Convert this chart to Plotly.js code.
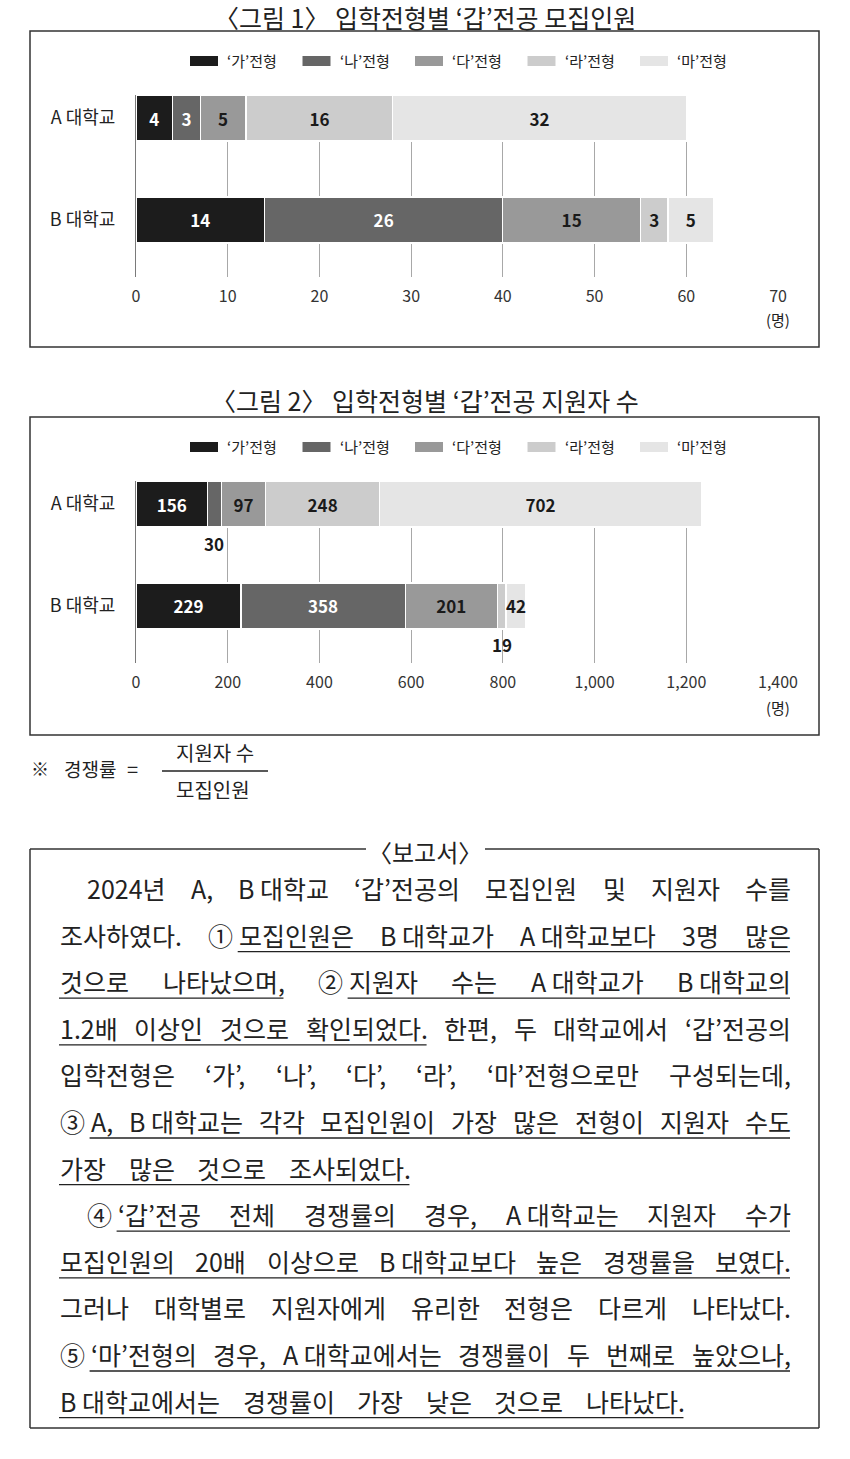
<!DOCTYPE html>
<html><head><meta charset="utf-8">
<script src="https://cdn.plot.ly/plotly-3.0.1.min.js"></script>
<style>html,body{margin:0;padding:0;background:#fff}</style>
</head><body><div id="chart" style="width:850px;height:1459px"></div>
<script>
const W = 850, H = 1459;
const FONT = '"Noto Sans CJK KR", "Noto Sans", sans-serif';

// ---- data ----
const universities = ['A 대학교', 'B 대학교'];
const types = ['‘가’전형', '‘나’전형', '‘다’전형', '‘라’전형', '‘마’전형'];
// 그림 1: 모집인원 [A, B]
const quota_ga = [4, 14];
const quota_na = [3, 26];
const quota_da = [5, 15];
const quota_ra = [16, 3];
const quota_ma = [32, 5];
// 그림 2: 지원자 수 [A, B]
const appl_ga = [156, 229];
const appl_na = [30, 358];
const appl_da = [97, 201];
const appl_ra = [248, 19];
const appl_ma = [702, 42];
const axis1Ticks = [0, 10, 20, 30, 40, 50, 60, 70];
const axis2Ticks = [0, 200, 400, 600, 800, 1000, 1200, 1400];

// '\u00a0' keeps "B 대학교" together as one word; [ ] marks underlined parts
const reportLines = [
  {indent: true,  justify: true,  text: '2024년 A, B\u00a0대학교 ‘갑’전공의 모집인원 및 지원자 수를'},
  {indent: false, justify: true,  text: '조사하였다. ①\u00a0[모집인원은 B\u00a0대학교가 A\u00a0대학교보다 3명 많은]'},
  {indent: false, justify: true,  text: '[것으로 나타났으며,] ②\u00a0[지원자 수는 A\u00a0대학교가 B\u00a0대학교의]'},
  {indent: false, justify: true,  text: '[1.2배 이상인 것으로 확인되었다.] 한편, 두 대학교에서 ‘갑’전공의'},
  {indent: false, justify: true,  text: '입학전형은 ‘가’, ‘나’, ‘다’, ‘라’, ‘마’전형으로만 구성되는데,'},
  {indent: false, justify: true,  text: '③\u00a0[A, B\u00a0대학교는 각각 모집인원이 가장 많은 전형이 지원자 수도]'},
  {indent: false, justify: false, text: '[가장 많은 것으로 조사되었다.]'},
  {indent: true,  justify: true,  text: '④\u00a0[‘갑’전공 전체 경쟁률의 경우, A\u00a0대학교는 지원자 수가]'},
  {indent: false, justify: true,  text: '[모집인원의 20배 이상으로 B\u00a0대학교보다 높은 경쟁률을 보였다.]'},
  {indent: false, justify: true,  text: '그러나 대학별로 지원자에게 유리한 전형은 다르게 나타났다.'},
  {indent: false, justify: true,  text: '⑤\u00a0[‘마’전형의 경우, A\u00a0대학교에서는 경쟁률이 두 번째로 높았으나,]'},
  {indent: false, justify: false, text: '[B\u00a0대학교에서는 경쟁률이 가장 낮은 것으로 나타났다.]'}
];

// ---- style ----
const colors = ['#1c1c1c', '#666666', '#999999', '#cccccc', '#e5e5e5'];
const labelColors = ['#ffffff', '#ffffff', '#1a1a1a', '#1a1a1a', '#1a1a1a'];
const px = x => x / W;
const py = y => 1 - y / H;

const traces = [];
const annotations = [];
const shapes = [];

function buildChart(series, xa, ya, special) {
  series.forEach((vals, i) => {
    const pos = vals.map((v, j) => (special[i] && special[i][j]) ? 'none' : 'inside');
    traces.push({
      type: 'bar', orientation: 'h', x: vals, y: universities, xaxis: xa, yaxis: ya,
      name: types[i], width: 0.45,
      marker: {color: colors[i], line: {color: '#ffffff', width: 1.2}},
      text: vals.map(String), textposition: pos, insidetextanchor: 'middle', textangle: 0,
      textfont: {family: FONT, size: 17, color: labelColors[i], weight: 'bold'},
      hoverinfo: 'skip', showlegend: false
    });
    vals.forEach((v, j) => {
      const sp = special[i] && special[i][j];
      if (!sp) return;
      let base = 0;
      for (let k = 0; k < i; k++) base += series[k][j];
      annotations.push({
        x: base + v / 2, y: universities[j], xref: xa, yref: ya, showarrow: false,
        text: '<b>' + v + '</b>', yshift: sp === 'below' ? -39 : 0,
        font: {family: FONT, size: 17, color: '#1a1a1a'}
      });
    });
  });
}

buildChart([quota_ga, quota_na, quota_da, quota_ra, quota_ma], 'x', 'y', []);
buildChart([appl_ga, appl_na, appl_da, appl_ra, appl_ma], 'x2', 'y2',
  [null, ['below', null], null, [null, 'below'], [null, 'over']]);

// frames of the two figures
[[31, 347], [417, 735]].forEach(([t, b]) => {
  shapes.push({type: 'rect', xref: 'paper', yref: 'paper', x0: px(30), x1: px(819), y0: py(b), y1: py(t),
    line: {color: '#333', width: 1.5}, fillcolor: 'rgba(0,0,0,0)'});
});

// titles
[['〈그림 1〉 입학전형별 ‘갑’전공 모집인원', 17], ['〈그림 2〉 입학전형별 ‘갑’전공 지원자 수', 400]].forEach(([t, y]) => {
  annotations.push({text: t, x: 0.5, y: py(y), xref: 'paper', yref: 'paper', showarrow: false,
    xanchor: 'center', yanchor: 'middle', borderpad: 0, font: {family: FONT, size: 25, color: '#222'}});
});

// legends
[61, 447].forEach(ly => {
  types.forEach((t, i) => {
    const x0 = 190 + 112.5 * i;
    shapes.push({type: 'rect', xref: 'paper', yref: 'paper', x0: px(x0), x1: px(x0 + 28),
      y0: py(ly + 5), y1: py(ly - 5), line: {width: 0}, fillcolor: colors[i]});
    annotations.push({text: t, x: px(x0 + 35), y: py(ly), xref: 'paper', yref: 'paper', showarrow: false,
      xanchor: 'left', yanchor: 'middle', font: {family: FONT, size: 15, color: '#222'}});
  });
});

// unit labels
[319, 707].forEach(y => {
  annotations.push({text: '(명)', x: px(778), y: py(y), xref: 'paper', yref: 'paper', showarrow: false,
    xanchor: 'center', yanchor: 'middle', font: {family: FONT, size: 15, color: '#222'}});
});

// formula
const fAnn = (text, x, y, anchor, size) => annotations.push({text, x: px(x), y: py(y), xref: 'paper', yref: 'paper',
  showarrow: false, xanchor: anchor, yanchor: 'middle', font: {family: FONT, size, color: '#222'}});
fAnn('※', 40, 768, 'center', 18);
fAnn('경쟁률', 62, 768, 'left', 19);
fAnn('=', 132, 768, 'center', 20);
fAnn('지원자 수', 215, 752, 'center', 20);
fAnn('모집인원', 213, 790, 'center', 20);
shapes.push({type: 'line', xref: 'paper', yref: 'paper', x0: px(162), x1: px(268), y0: py(771), y1: py(771),
  line: {color: '#222', width: 1.3}});

// report box
const boxL = 30, boxR = 819, boxT = 849, boxB = 1428;
const boxLine = {color: '#333', width: 1.5};
[[boxL, boxT, 366, boxT], [485, boxT, boxR, boxT], [boxL, boxT, boxL, boxB], [boxR, boxT, boxR, boxB], [boxL, boxB, boxR, boxB]]
  .forEach(([x0, y0, x1, y1]) => shapes.push({type: 'line', xref: 'paper', yref: 'paper',
    x0: px(x0), x1: px(x1), y0: py(y0), y1: py(y1), line: boxLine}));
fAnn('〈보고서〉', 425, 851, 'center', 24);

// report text with justification
const cnv = document.createElement('canvas');
const ctx = cnv.getContext('2d');
function measure(t, size) { ctx.font = size + 'px "Noto Sans CJK KR"'; return ctx.measureText(t).width; }
const textL = 59, indentL = 86, textR = 790, firstY = 888, lineH = 46.6, baseSize = 25;
reportLines.forEach((ln, li) => {
  let ul = false;
  const words = ln.text.split(' ').map(tok => {
    let w = tok;
    let pre = '';
    const bi = w.indexOf('[');
    if (bi >= 0) { pre = w.slice(0, bi); w = w.slice(bi + 1); }
    return {pre, w, open: bi >= 0};
  });
  const items = [];
  words.forEach(o => {
    let w = o.w;
    if (o.open) {
      if (o.pre) items.push({w: o.pre, u: false, joinNext: true});
      ul = true;
    }
    const u = ul;
    if (w.endsWith(']')) { ul = false; w = w.slice(0, -1); }
    items.push({w, u, joinNext: false});
  });
  let size = baseSize;
  const left = ln.indent ? indentL : textL;
  const avail = textR - left;
  const calc = () => items.map(o => measure(o.w, size));
  let widths = calc();
  const nGaps = items.filter((o, k) => k < items.length - 1 && !o.joinNext).length;
  let sum = widths.reduce((a, b) => a + b, 0);
  while (sum + size * 0.3 * nGaps > avail && size > 14) {
    size -= 0.5; widths = calc(); sum = widths.reduce((a, b) => a + b, 0);
  }
  const gap = ln.justify && nGaps > 0 ? (avail - sum) / nGaps : size * 0.9;
  const y = firstY + lineH * li;
  let x = left;
  let runStart = null, runEnd = null;
  items.forEach((o, k) => {
    annotations.push({text: o.w, x: px(x), y: py(y), xref: 'paper', yref: 'paper', showarrow: false,
      xanchor: 'left', yanchor: 'middle', borderpad: 0,
      font: {family: FONT, size, color: '#222'}});
    if (o.u) { if (runStart === null) runStart = x; runEnd = x + widths[k]; }
    const last = k === items.length - 1;
    if (runStart !== null && (!o.u || last)) {
      shapes.push({type: 'line', xref: 'paper', yref: 'paper', x0: px(runStart), x1: px(runEnd),
        y0: py(y + 17), y1: py(y + 17), line: {color: '#222', width: 1.3}});
      runStart = null;
    }
    x += widths[k] + (o.joinNext ? 0 : gap);
  });
});

const xCommon = {showgrid: true, gridcolor: '#a8a8a8', gridwidth: 1, zeroline: false, ticks: '',
  showline: false, tickfont: {family: FONT, size: 16, color: '#333'}, ticklabelstandoff: 8, fixedrange: true};
const yCommon = {type: 'category', range: [1.559, -0.2255], ticks: '', showgrid: false, zeroline: false,
  showline: true, linecolor: '#7a7a7a', linewidth: 1, tickfont: {family: FONT, size: 18, color: '#222'},
  ticklabelstandoff: 16, fixedrange: true};

const layout = {
  width: W, height: H, margin: {l: 0, r: 0, t: 0, b: 0}, paper_bgcolor: '#fff', plot_bgcolor: 'rgba(0,0,0,0)',
  barmode: 'stack', showlegend: false, font: {family: FONT, color: '#222'},
  xaxis: Object.assign({}, xCommon, {domain: [136 / W, 778 / W], range: [0, 70], tickvals: axis1Ticks, anchor: 'y'}),
  yaxis: Object.assign({}, yCommon, {domain: [py(277), py(95)], anchor: 'x'}),
  xaxis2: Object.assign({}, xCommon, {domain: [136 / W, 778 / W], range: [0, 1400], tickvals: axis2Ticks,
    tickformat: ',d', anchor: 'y2'}),
  yaxis2: Object.assign({}, yCommon, {domain: [py(663), py(481)], anchor: 'x2'}),
  annotations, shapes
};
Plotly.newPlot('chart', traces, layout, {staticPlot: true, displayModeBar: false});
</script></body></html>
